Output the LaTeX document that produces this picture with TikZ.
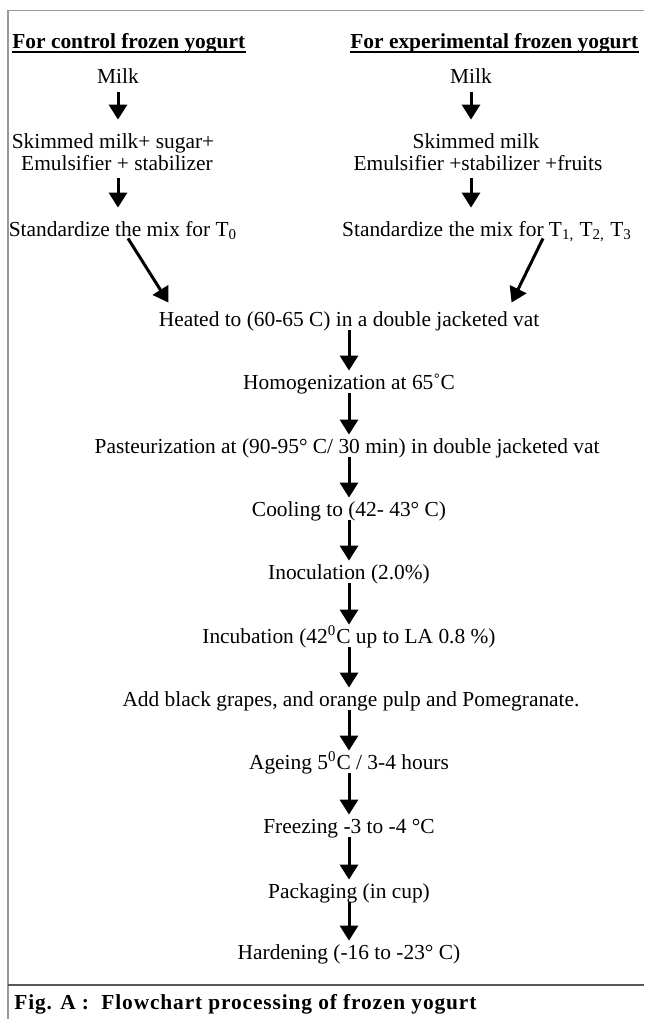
\documentclass[tikz,border=0pt]{standalone}
\usepackage{fontspec}
\setmainfont{Liberation Serif}
\usetikzlibrary{arrows.meta}
\colorlet{cadre}{black!40}
\colorlet{filet}{black!65}
\newcommand{\etapefont}{\fontsize{10.7}{12}\selectfont}

\begin{document}
\begin{tikzpicture}[x=0.5pt,y=-0.5pt,
  etape/.style={font=\etapefont,inner sep=0pt,text height=7pt,text depth=2pt},
  titre/.style={etape,font=\etapefont\bfseries,anchor=west},
  fleche/.style={line width=1.5pt,-{Triangle[width=9pt,length=7.5pt]}}]%
%%CADRE
\useasboundingbox (0,0) rectangle (644,1019);%%
\draw[cadre,line width=0.6pt] (644,10.5) -- (8,10.5) -- (8,1019);%%
\draw[filet,line width=1pt] (8,985) -- (644,985);%%
%%TITRES
\node[titre] (titreA) at (12,43) {For control frozen yogurt};%%
\node[titre] (titreB) at (350,43) {For experimental frozen yogurt};%%
\draw[line width=1pt] ([yshift=-2pt]titreA.base west) -- ([yshift=-2pt]titreA.base east);%%
\draw[line width=1pt] ([yshift=-2pt]titreB.base west) -- ([yshift=-2pt]titreB.base east);%%
%%TEMOIN
\node[etape] (laitA) at (118,78) {Milk};%%
\node[etape] (skimA) at (113,143) {Skimmed milk+ sugar+};%%
\node[etape] (emulA) at (117,165) {Emulsifier + stabilizer};%%
\node[etape] (stdA) at (123,231) {Standardize the mix for T\textsubscript{0}};%%
%%ESSAI
\node[etape] (laitB) at (471,78) {Milk};%%
\node[etape] (skimB) at (476,143) {Skimmed milk};%%
\node[etape] (emulB) at (478,165) {Emulsifier +stabilizer +fruits};%%
\node[etape] (stdB) at (487,231) {Standardize the mix for T\textsubscript{1,} T\textsubscript{2,} T\textsubscript{3}};%%
%%TRAITEMENT
\node[etape] (chauf) at (349,321) {Heated to (60-65 C) in a double jacketed vat};%%
\node[etape] (homog) at (349,384) {Homogenization at 65˚C};%%
\node[etape] (pasteur) at (347,448) {Pasteurization at (90-95° C/ 30 min) in double jacketed vat};%%
\node[etape] (refroid) at (349,511) {Cooling to (42- 43° C)};%%
\node[etape] (inocul) at (349,574) {Inoculation (2.0\%)};%%
\node[etape] (incub) at (349,638) {Incubation (42\textsuperscript{0}C up to LA 0.8 \%)};%%
\node[etape] (fruits) at (351,701) {Add black grapes, and orange pulp and Pomegranate.};%%
\node[etape] (matur) at (349,764) {Ageing 5\textsuperscript{0}C / 3-4 hours};%%
\node[etape] (congel) at (349,828) {Freezing -3 to -4 °C};%%
\node[etape] (emball) at (349,893) {Packaging (in cup)};%%
\node[etape] (durciss) at (349,954) {Hardening (-16 to -23° C)};%%
%%FLECHES
\draw[fleche,shorten <=2.5pt,shorten >=7pt] (laitA.south) -- (laitA |- skimA.north);%%
\draw[fleche,shorten <=2pt,shorten >=7pt] (laitA |- emulA.south) -- (laitA |- stdA.north);%%
\draw[fleche,shorten <=2.5pt,shorten >=7pt] (laitB.south) -- (laitB |- skimB.north);%%
\draw[fleche,shorten <=2pt,shorten >=7pt] (laitB |- emulB.south) -- (laitB |- stdB.north);%%
\draw[fleche] ([xshift=2.5pt,yshift=1pt]stdA.south) -- ([xshift=5pt,yshift=4.5pt]chauf.north west);%%
\draw[fleche] ([xshift=28pt,yshift=1pt]stdB.south) -- ([xshift=-14pt,yshift=4.5pt]chauf.north east);%%
\draw[fleche,shorten >=2pt] (chauf.south) -- (homog.north);%%
\draw[fleche,shorten >=2pt] (homog.south) -- (homog |- pasteur.north);%%
\draw[fleche,shorten >=2pt] (homog |- pasteur.south) -- (refroid.north);%%
\draw[fleche,shorten >=2pt] (refroid.south) -- (inocul.north);%%
\draw[fleche,shorten >=2pt] (inocul.south) -- (incub.north);%%
\draw[fleche,shorten >=2pt] (incub.south) -- (incub |- fruits.north);%%
\draw[fleche,shorten >=2pt] (incub |- fruits.south) -- (matur.north);%%
\draw[fleche,shorten >=2pt] (matur.south) -- (congel.north);%%
\draw[fleche,shorten >=2pt] (congel.south) -- (emball.north);%%
\draw[fleche,shorten >=2pt] (emball.south) -- (durciss.north);%%
%%LEGENDE
\node[etape,font=\etapefont\bfseries\addfontfeatures{LetterSpace=4},anchor=west] (legende) at (14,1004) {Fig. A :~~Flowchart processing of frozen yogurt};%%
\end{tikzpicture}
\end{document}
